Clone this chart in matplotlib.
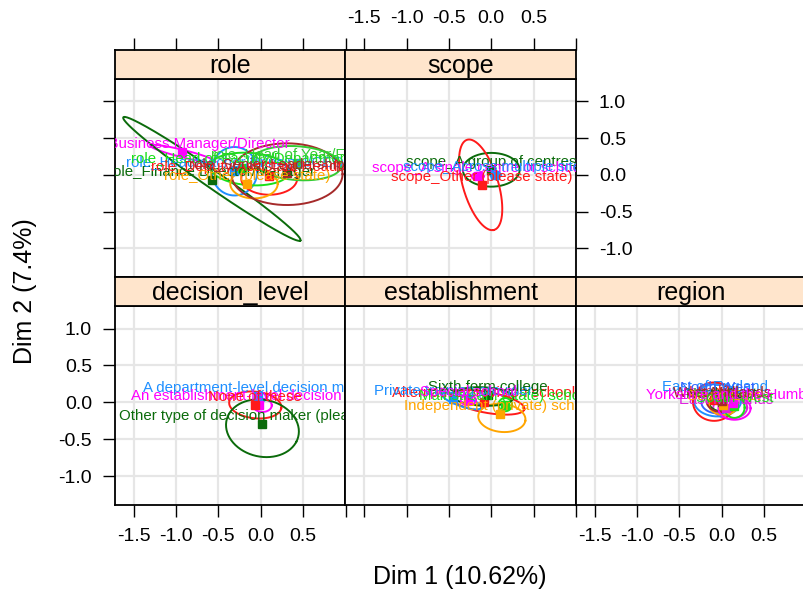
import numpy as np
import matplotlib
matplotlib.use("Agg")
import matplotlib.pyplot as plt
from matplotlib.transforms import ScaledTranslation

plt.rcParams['font.family'] = ['Liberation Sans', 'DejaVu Sans']

# ---- data ----
# each category: label, colour, point (x, y), ellipse centre (x, y), semi-axes (a, b), angle (deg)
ROLE_LABELS = ["role_Business Manager/Director", "role_Finance Director/Manager",
               "role_Headteacher/Principal/CEO", "role_Head of Faculty/Department",
               "role_Deputy/Assistant Headteacher", "role_Other (please state)",
               "role_Senior Leadership Team", "role_Head of Year/Faculty"]
ROLE_COLORS = ["#FF00FF", "#0B6B0B", "#1E8FFF", "#19E019", "#FF1A1A", "#FFA500", "#A52A2A", "#33CC33"]
ROLE_X = [-0.93, -0.58, -0.31, -0.22, 0.10, -0.16, 0.31, 0.43]
ROLE_Y = [0.31, -0.07, 0.05, 0.10, -0.01, -0.13, 0.03, 0.16]
ROLE_EX = [-0.92, -0.577, -0.31, -0.13, 0.10, -0.08, 0.31, 0.43]
ROLE_EY = [0.29, -0.054, 0.05, 0.08, -0.05, -0.12, 0.01, 0.16]
ROLE_A = [0.40, 1.34, 0.27, 0.47, 0.33, 0.28, 0.655, 0.52]
ROLE_B = [0.05, 0.11, 0.33, 0.22, 0.22, 0.20, 0.42, 0.23]
ROLE_ANG = [-16, -38.8, 0, -5, 0, 0, 0, -5]

SCOPE_LABELS = ["scope_A group of centres", "scope_A single centre or school",
                "scope_Across multiple sites", "scope_Other (please state)"]
SCOPE_COLORS = ["#0B6B0B", "#FF00FF", "#1E8FFF", "#FF1A1A"]
SCOPE_X = [0.0, -0.16, 0.05, -0.11]
SCOPE_Y = [0.07, -0.02, 0.0, -0.14]
SCOPE_EX = [0.0, -0.16, 0.05, -0.125]
SCOPE_EY = [0.07, -0.02, 0.0, -0.135]
SCOPE_A = [0.335, 0.07, 0.06, 0.634]
SCOPE_B = [0.23, 0.05, 0.05, 0.21]
SCOPE_ANG = [0, 0, 0, -76]

DEC_LABELS = ["A department-level decision maker", "An establishment-level decision maker",
              "None of these", "Other type of decision maker (please state)"]
DEC_COLORS = ["#1E8FFF", "#FF00FF", "#FF1A1A", "#0B6B0B"]
DEC_X = [-0.03, -0.015, -0.07, 0.02]
DEC_Y = [0.08, -0.03, -0.04, -0.29]
DEC_EX = [0.0, 0.02, -0.065, 0.02]
DEC_EY = [0.07, -0.04, -0.035, -0.35]
DEC_A = [0.07, 0.11, 0.31, 0.44]
DEC_B = [0.06, 0.09, 0.18, 0.38]
DEC_ANG = [0, 0, -8, -25]

EST_LABELS = ["Alternative provision school", "Independent (private) school",
              "Mainstream (state) school", "Private training provider",
              "Sixth form college", "Special school"]
EST_COLORS = ["#FF1A1A", "#FFA500", "#19E019", "#1E8FFF", "#0B6B0B", "#FF00FF"]
EST_X = [-0.09, 0.10, 0.165, -0.45, -0.035, -0.27]
EST_Y = [0.01, -0.16, -0.03, 0.04, 0.10, 0.03]
EST_EX = [-0.05, 0.125, 0.165, -0.35, -0.10, -0.27]
EST_EY = [0.0, -0.21, -0.03, 0.02, 0.08, 0.03]
EST_A = [0.45, 0.28, 0.08, 0.25, 0.36, 0.09]
EST_B = [0.14, 0.19, 0.09, 0.07, 0.125, 0.07]
EST_ANG = [-12, -8, 0, -22, -3, 0]

REG_LABELS = ["East Midlands", "East of England", "London", "North East", "North West",
              "South East", "South West", "West Midlands", "Yorkshire and the Humber"]
REG_COLORS = ["#E020E0", "#1E8FFF", "#FF1A1A", "#0B6B0B", "#3366FF",
              "#FFA500", "#19E019", "#A52A2A", "#FF00FF"]
REG_X = [0.05, -0.08, -0.09, 0.0, -0.05, 0.02, 0.15, 0.0, 0.135]
REG_Y = [-0.08, 0.10, 0.03, 0.0, 0.08, -0.03, -0.05, 0.02, -0.01]
REG_EX = [0.10, -0.05, -0.09, 0.0, -0.04, 0.02, 0.15, 0.0, 0.15]
REG_EY = [-0.07, 0.03, 0.01, 0.0, 0.0, -0.03, -0.07, 0.02, -0.08]
REG_A = [0.20, 0.28, 0.25, 0.15, 0.20, 0.17, 0.12, 0.18, 0.19]
REG_B = [0.15, 0.22, 0.26, 0.12, 0.15, 0.14, 0.14, 0.15, 0.155]
REG_ANG = [0, 0, 0, 0, 0, 0, 0, 0, 0]

XTICKS = [-1.5, -1.0, -0.5, 0.0, 0.5, 1.0]
XTICKLABELS = ["-1.5", "-1.0", "-0.5", "0.0", "0.5", ""]
YTICKS = [-1.0, -0.5, 0.0, 0.5, 1.0]
YTICKLABELS = ["-1.0", "-0.5", "0.0", "0.5", "1.0"]
XLIM = (-1.72, 0.995)
YLIM = (-1.39, 1.306)

# ---- layout (pixels) ----
W, H = 804, 589
fig = plt.figure(figsize=(W / 100, H / 100), dpi=100)
COLS = [(115, 345.5), (345.5, 576), (576, 806.5)]
PANEL_ROWS = [(79, 277), (306, 505)]
STRIP_ROWS = [(50, 79), (277, 306)]
STRIP_COLOR = "#FFE5CC"


def box(x0, y0, x1, y1):
    return [x0 / W, 1 - y1 / H, (x1 - x0) / W, (y1 - y0) / H]


def setup_ticks(ax):
    ax.set_xlim(XLIM)
    ax.set_ylim(YLIM)
    ax.set_xticks(XTICKS)
    ax.set_xticklabels(XTICKLABELS)
    ax.set_yticks(YTICKS)
    ax.set_yticklabels(YTICKLABELS)
    ax.tick_params(direction="out", length=8.5, width=1, labelsize=14, pad=8,
                   bottom=False, top=False, left=False, right=False,
                   labelbottom=False, labeltop=False, labelleft=False, labelright=False)
    for s in ax.spines.values():
        s.set_linewidth(1.3)


def panel(col, row, title, labels, colors, px, py, ex, ey, ea, eb, eang):
    x0, x1 = COLS[col]
    y0, y1 = PANEL_ROWS[row]
    ax = fig.add_axes(box(x0, y0, x1, y1))
    setup_ticks(ax)
    ax.grid(True, color="#E6E6E6", lw=1.6, zorder=0)
    ax.set_axisbelow(True)
    t = np.linspace(0, 2 * np.pi, 200)
    off = ScaledTranslation(0, 3 / 72, fig.dpi_scale_trans)
    for i, lab in enumerate(labels):
        th = np.deg2rad(eang[i])
        xs = ex[i] + ea[i] * np.cos(t) * np.cos(th) - eb[i] * np.sin(t) * np.sin(th)
        ys = ey[i] + ea[i] * np.cos(t) * np.sin(th) + eb[i] * np.sin(t) * np.cos(th)
        ax.plot(xs, ys, color=colors[i], lw=1.4, zorder=3)
        ax.plot(px[i], py[i], "s", color=colors[i], ms=5.5, zorder=4)
        ax.text(px[i], py[i], lab, color=colors[i], fontsize=10.8, ha="center",
                va="baseline", transform=ax.transData + off, clip_on=True, zorder=5)

    sy0, sy1 = STRIP_ROWS[row]
    sax = fig.add_axes(box(x0, sy0, x1, sy1))
    sax.set_facecolor(STRIP_COLOR)
    setup_ticks(sax)
    sax.set_ylim(0, 1)
    sax.set_yticks([])
    sax.text(0.5, 0.45, title, transform=sax.transAxes, ha="center", va="center", fontsize=18)
    return ax, sax


ax_role, s_role = panel(0, 0, "role", ROLE_LABELS, ROLE_COLORS, ROLE_X, ROLE_Y,
                        ROLE_EX, ROLE_EY, ROLE_A, ROLE_B, ROLE_ANG)
ax_scope, s_scope = panel(1, 0, "scope", SCOPE_LABELS, SCOPE_COLORS, SCOPE_X, SCOPE_Y,
                          SCOPE_EX, SCOPE_EY, SCOPE_A, SCOPE_B, SCOPE_ANG)
ax_dec, s_dec = panel(0, 1, "decision_level", DEC_LABELS, DEC_COLORS, DEC_X, DEC_Y,
                      DEC_EX, DEC_EY, DEC_A, DEC_B, DEC_ANG)
ax_est, s_est = panel(1, 1, "establishment", EST_LABELS, EST_COLORS, EST_X, EST_Y,
                      EST_EX, EST_EY, EST_A, EST_B, EST_ANG)
ax_reg, s_reg = panel(2, 1, "region", REG_LABELS, REG_COLORS, REG_X, REG_Y,
                      REG_EX, REG_EY, REG_A, REG_B, REG_ANG)

# lattice-style alternating axes
s_role.tick_params(top=True)
s_scope.tick_params(top=True, labeltop=True)
ax_role.tick_params(left=True)
ax_scope.tick_params(right=True, labelright=True)
ax_dec.tick_params(left=True, labelleft=True, bottom=True, labelbottom=True)
ax_est.tick_params(bottom=True)
ax_reg.tick_params(bottom=True, labelbottom=True)

fig.text(460 / W, 1 - 577 / H, "Dim 1 (10.62%)", ha="center", va="center", fontsize=18)
fig.text(25 / W, 1 - 291 / H, "Dim 2 (7.4%)", ha="center", va="center", fontsize=18, rotation=90)

fig.savefig("out.png", dpi=100)
